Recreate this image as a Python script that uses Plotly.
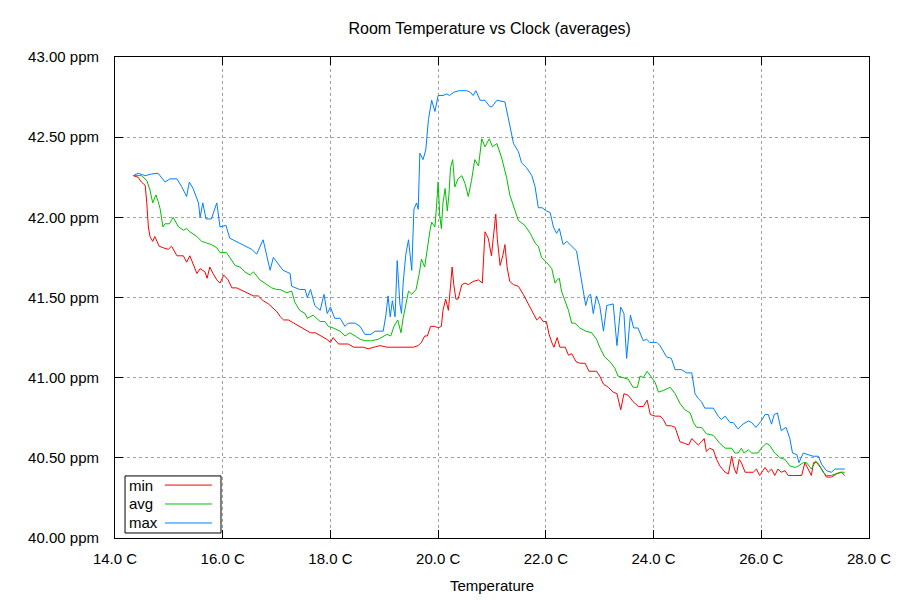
import plotly.graph_objects as go

# --- data ---
max_temp = [14.34, 14.43, 14.56, 14.68, 14.80, 14.93, 15.02, 15.15, 15.24, 15.33, 15.38, 15.45,
            15.55, 15.58, 15.63, 15.69, 15.79, 15.89, 15.95, 16.06, 16.13, 16.35, 16.54, 16.63,
            16.75, 16.88, 16.94, 17.12, 17.25, 17.28, 17.37, 17.43, 17.53, 17.57, 17.63, 17.71,
            17.81, 17.88, 17.94, 18.00, 18.08, 18.18, 18.27, 18.33, 18.46, 18.55, 18.64, 18.75,
            18.83, 18.98, 19.03, 19.07, 19.11, 19.15, 19.20, 19.24, 19.29, 19.32, 19.35, 19.40,
            19.45, 19.48, 19.51, 19.55, 19.60, 19.63, 19.66, 19.72, 19.77, 19.82, 19.88, 19.94,
            20.00, 20.09, 20.16, 20.21, 20.29, 20.39, 20.47, 20.53, 20.60, 20.65, 20.70, 20.78,
            20.87, 20.96, 21.00, 21.09, 21.24, 21.30, 21.40, 21.49, 21.55, 21.64, 21.74, 21.80,
            21.86, 21.93, 22.01, 22.08, 22.14, 22.20, 22.25, 22.32, 22.39, 22.48, 22.57, 22.63,
            22.70, 22.74, 22.79, 22.83, 22.88, 22.94, 23.00, 23.07, 23.13, 23.25, 23.28, 23.32,
            23.39, 23.45, 23.50, 23.57, 23.63, 23.71, 23.81, 23.87, 23.93, 24.06, 24.12, 24.24,
            24.33, 24.40, 24.52, 24.61, 24.71, 24.77, 24.83, 24.89, 24.95, 25.11, 25.20, 25.26,
            25.33, 25.42, 25.48, 25.57, 25.66, 25.76, 25.82, 25.90, 26.00, 26.07, 26.13, 26.19,
            26.24, 26.30, 26.37, 26.46, 26.53, 26.58, 26.66, 26.70, 26.78, 26.87, 26.96, 27.06,
            27.12, 27.21, 27.30, 27.37, 27.55]
max_ppm = [42.26, 42.275, 42.26, 42.27, 42.275, 42.22, 42.24, 42.24, 42.19, 42.13, 42.22, 42.18,
           42.09, 42.00, 42.09, 41.99, 41.99, 42.09, 41.94, 41.95, 41.87, 41.83, 41.80, 41.77,
           41.86, 41.67, 41.75, 41.67, 41.65, 41.57, 41.56, 41.55, 41.55, 41.50, 41.55, 41.45,
           41.42, 41.52, 41.40, 41.44, 41.37, 41.37, 41.32, 41.34, 41.34, 41.32, 41.27, 41.27,
           41.29, 41.29, 41.39, 41.51, 41.38, 41.48, 41.38, 41.73, 41.46, 41.40, 41.59, 41.77,
           41.86, 41.76, 41.67, 42.05, 42.09, 42.05, 42.40, 42.36, 42.42, 42.61, 42.73, 42.66,
           42.76, 42.76, 42.77, 42.76, 42.78, 42.79, 42.79, 42.79, 42.78, 42.76, 42.79, 42.73,
           42.73, 42.69, 42.69, 42.73, 42.72, 42.63, 42.46, 42.41, 42.34, 42.31, 42.26, 42.19,
           42.06, 42.06, 42.04, 42.03, 41.94, 41.90, 41.93, 41.83, 41.85, 41.82, 41.79, 41.67,
           41.53, 41.45, 41.51, 41.52, 41.40, 41.51, 41.45, 41.29, 41.45, 41.46, 41.35, 41.20,
           41.44, 41.40, 41.12, 41.39, 41.31, 41.31, 41.23, 41.24, 41.22, 41.22, 41.20, 41.13,
           41.12, 41.05, 41.05, 41.03, 41.03, 40.90, 40.87, 40.85, 40.81, 40.81, 40.76, 40.74,
           40.76, 40.72, 40.72, 40.68, 40.71, 40.73, 40.72, 40.69, 40.73, 40.77, 40.77, 40.71,
           40.77, 40.78, 40.67, 40.69, 40.62, 40.53, 40.52, 40.47, 40.53, 40.52, 40.51, 40.51,
           40.46, 40.42, 40.41, 40.43, 40.43]

avg_temp = [14.34, 14.49, 14.59, 14.65, 14.70, 14.76, 14.80, 14.84, 14.89, 14.93, 15.01, 15.08,
            15.18, 15.27, 15.33, 15.39, 15.52, 15.61, 15.70, 15.79, 15.89, 15.95, 16.07, 16.23,
            16.32, 16.41, 16.51, 16.57, 16.69, 16.82, 16.91, 17.00, 17.06, 17.19, 17.28, 17.34,
            17.43, 17.53, 17.57, 17.68, 17.81, 17.90, 17.96, 18.05, 18.18, 18.27, 18.36, 18.46,
            18.55, 18.64, 18.76, 18.89, 18.98, 19.05, 19.12, 19.18, 19.25, 19.31, 19.35, 19.40,
            19.45, 19.51, 19.59, 19.65, 19.69, 19.75, 19.80, 19.85, 19.88, 19.94, 19.97, 20.00,
            20.03, 20.06, 20.09, 20.13, 20.17, 20.20, 20.23, 20.27, 20.31, 20.37, 20.44, 20.50,
            20.56, 20.62, 20.68, 20.75, 20.81, 20.87, 20.95, 21.01, 21.09, 21.18, 21.27, 21.33,
            21.43, 21.49, 21.61, 21.71, 21.80, 21.86, 21.92, 22.01, 22.11, 22.17, 22.21, 22.25,
            22.29, 22.36, 22.42, 22.48, 22.54, 22.63, 22.74, 22.85, 22.94, 23.00, 23.09, 23.19,
            23.28, 23.34, 23.43, 23.53, 23.62, 23.70, 23.75, 23.81, 23.88, 23.94, 24.03, 24.09,
            24.18, 24.31, 24.40, 24.49, 24.58, 24.68, 24.74, 24.80, 24.89, 24.98, 25.11, 25.23,
            25.33, 25.45, 25.51, 25.57, 25.63, 25.68, 25.76, 25.82, 25.94, 26.00, 26.09, 26.15,
            26.25, 26.35, 26.44, 26.53, 26.63, 26.69, 26.78, 26.84, 26.93, 27.01, 27.07, 27.15,
            27.21, 27.30, 27.40, 27.46, 27.55]
avg_ppm = [42.26, 42.26, 42.23, 42.17, 42.09, 42.14, 42.10, 42.05, 41.94, 41.96, 41.96, 42.00,
           41.94, 41.92, 41.93, 41.91, 41.88, 41.85, 41.84, 41.83, 41.81, 41.78, 41.78, 41.70,
           41.69, 41.66, 41.64, 41.66, 41.61, 41.58, 41.56, 41.55, 41.55, 41.53, 41.54, 41.47,
           41.42, 41.40, 41.37, 41.39, 41.35, 41.35, 41.32, 41.31, 41.29, 41.26, 41.28, 41.26,
           41.24, 41.23, 41.23, 41.24, 41.26, 41.27, 41.26, 41.32, 41.36, 41.28, 41.37, 41.45,
           41.54, 41.52, 41.55, 41.65, 41.74, 41.69, 41.82, 41.92, 41.97, 41.94, 42.07, 42.22,
           42.01, 41.93, 42.09, 42.18, 42.04, 42.14, 42.31, 42.36, 42.19, 42.24, 42.26, 42.21,
           42.13, 42.23, 42.36, 42.32, 42.49, 42.44, 42.49, 42.44, 42.46, 42.37, 42.25, 42.14,
           42.04, 41.98, 41.95, 41.90, 41.84, 41.82, 41.75, 41.72, 41.68, 41.59, 41.61, 41.62,
           41.54, 41.47, 41.42, 41.34, 41.34, 41.31, 41.29, 41.28, 41.24, 41.19, 41.13, 41.10,
           41.06, 41.01, 41.00, 40.99, 40.94, 40.94, 41.01, 41.00, 41.04, 41.01, 40.97, 40.91,
           40.92, 40.94, 40.90, 40.84, 40.80, 40.78, 40.72, 40.69, 40.69, 40.65, 40.64, 40.59,
           40.56, 40.56, 40.53, 40.53, 40.56, 40.53, 40.55, 40.53, 40.53, 40.56, 40.59, 40.58,
           40.53, 40.50, 40.49, 40.45, 40.44, 40.45, 40.47, 40.47, 40.43, 40.48, 40.46, 40.41,
           40.39, 40.39, 40.40, 40.41, 40.41]

min_temp = [14.34, 14.43, 14.49, 14.56, 14.59, 14.62, 14.65, 14.70, 14.74, 14.82, 14.90, 14.99,
            15.05, 15.15, 15.27, 15.33, 15.39, 15.45, 15.52, 15.58, 15.67, 15.71, 15.76, 15.82,
            15.89, 15.95, 16.02, 16.10, 16.17, 16.26, 16.38, 16.47, 16.57, 16.66, 16.75, 16.85,
            16.95, 17.01, 17.07, 17.13, 17.22, 17.32, 17.44, 17.53, 17.63, 17.72, 17.84, 17.93,
            18.00, 18.05, 18.15, 18.33, 18.43, 18.61, 18.70, 18.80, 18.92, 19.05, 19.23, 19.41,
            19.54, 19.63, 19.69, 19.75, 19.80, 19.86, 19.94, 20.00, 20.06, 20.09, 20.14, 20.19,
            20.22, 20.26, 20.29, 20.33, 20.37, 20.44, 20.50, 20.56, 20.65, 20.75, 20.82, 20.87,
            20.93, 20.99, 21.02, 21.07, 21.10, 21.15, 21.20, 21.24, 21.28, 21.33, 21.40, 21.49,
            21.58, 21.67, 21.77, 21.83, 21.89, 21.95, 22.01, 22.06, 22.11, 22.15, 22.21, 22.26,
            22.36, 22.42, 22.48, 22.56, 22.63, 22.73, 22.80, 22.94, 23.00, 23.07, 23.16, 23.25,
            23.32, 23.39, 23.45, 23.53, 23.62, 23.72, 23.81, 23.88, 23.94, 24.03, 24.12, 24.18,
            24.24, 24.33, 24.40, 24.49, 24.58, 24.65, 24.71, 24.77, 24.83, 24.89, 24.94, 24.98,
            25.04, 25.11, 25.17, 25.23, 25.33, 25.39, 25.42, 25.45, 25.50, 25.54, 25.59, 25.63,
            25.70, 25.79, 25.85, 25.91, 25.97, 26.07, 26.13, 26.19, 26.25, 26.31, 26.37, 26.44,
            26.50, 26.60, 26.69, 26.75, 26.81, 26.87, 26.93, 26.97, 27.03, 27.12, 27.21, 27.30,
            27.40, 27.49, 27.55]
min_ppm = [42.26, 42.25, 42.22, 42.20, 42.09, 41.94, 41.88, 41.85, 41.88, 41.82, 41.81, 41.80,
           41.82, 41.76, 41.76, 41.72, 41.76, 41.71, 41.65, 41.68, 41.66, 41.62, 41.69, 41.65,
           41.61, 41.59, 41.64, 41.61, 41.56, 41.56, 41.54, 41.53, 41.51, 41.51, 41.48, 41.46,
           41.43, 41.41, 41.38, 41.36, 41.36, 41.34, 41.32, 41.30, 41.28, 41.28, 41.26, 41.24,
           41.22, 41.25, 41.21, 41.21, 41.19, 41.19, 41.18, 41.19, 41.20, 41.19, 41.19, 41.19,
           41.19, 41.20, 41.22, 41.26, 41.26, 41.32, 41.32, 41.31, 41.32, 41.42, 41.49, 41.42,
           41.55, 41.69, 41.58, 41.49, 41.49, 41.58, 41.59, 41.58, 41.60, 41.61, 41.59, 41.91,
           41.87, 41.76, 41.86, 42.02, 41.86, 41.70, 41.76, 41.83, 41.69, 41.60, 41.58, 41.57,
           41.52, 41.46, 41.40, 41.36, 41.38, 41.35, 41.35, 41.27, 41.22, 41.19, 41.25, 41.19,
           41.19, 41.14, 41.15, 41.10, 41.09, 41.09, 41.04, 41.04, 41.01, 40.96, 40.94, 40.91,
           40.90, 40.80, 40.90, 40.89, 40.85, 40.82, 40.82, 40.86, 40.77, 40.76, 40.76, 40.74,
           40.70, 40.70, 40.69, 40.60, 40.59, 40.58, 40.62, 40.60, 40.58, 40.60, 40.62, 40.54,
           40.56, 40.55, 40.49, 40.45, 40.41, 40.40, 40.47, 40.51, 40.43, 40.40, 40.49, 40.47,
           40.41, 40.41, 40.41, 40.43, 40.39, 40.44, 40.41, 40.43, 40.39, 40.43, 40.41, 40.42,
           40.39, 40.39, 40.39, 40.39, 40.47, 40.43, 40.39, 40.47, 40.47, 40.43, 40.38, 40.38,
           40.40, 40.41, 40.39]

series_names = ["min", "avg", "max"]
series_colors = ["#ff0000", "#00c000", "#0080ff"]

FONT = "Liberation Sans, Arial, sans-serif"

fig = go.Figure()
for name, color, xs, ys in zip(series_names, series_colors,
                               [min_temp, avg_temp, max_temp],
                               [min_ppm, avg_ppm, max_ppm]):
    fig.add_trace(go.Scatter(x=xs, y=ys, mode="lines", name=name,
                             line=dict(color=color, width=1), showlegend=False))

# gnuplot style key: label on the left, line sample on the right, boxed
fig.add_shape(type="rect", xref="paper", yref="paper",
              x0=0.0133, x1=0.1406, y0=0.0104, y1=0.129,
              line=dict(color="black", width=1), fillcolor="white", layer="above")
row_y = [0.110, 0.0707, 0.0312]
for name, color, ry in zip(series_names, series_colors, row_y):
    fig.add_annotation(x=0.016, y=ry, xref="paper", yref="paper", text=name,
                       showarrow=False, xanchor="left", yanchor="middle",
                       font=dict(family=FONT, size=15, color="black"))
    fig.add_shape(type="line", xref="paper", yref="paper",
                  x0=0.0663, x1=0.1286, y0=ry, y1=ry,
                  line=dict(color=color, width=1), layer="above")

axis_common = dict(
    showline=True, linecolor="black", linewidth=1, mirror="ticks",
    ticks="inside", ticklen=8, tickcolor="black",
    showgrid=True, gridcolor="#a0a0a0", griddash="dot", gridwidth=1,
    zeroline=False, automargin=False,
    tickfont=dict(family=FONT, size=15, color="black"),
)

# the page body adds an 8px offset, so the figure is 892x592 here
fig.update_layout(
    width=892, height=592,
    plot_bgcolor="white", paper_bgcolor="white",
    margin=dict(l=107, r=31, t=49, b=62),
    title=dict(text="Room Temperature vs Clock (averages)", x=0.54, xanchor="center",
               y=1 - 20 / 592, yanchor="middle",
               font=dict(family=FONT, size=16, color="black")),
    xaxis=dict(range=[14, 28], dtick=2, tick0=14, tickformat=".1f", ticksuffix=" C",
               ticklabelstandoff=7,
               title=dict(text="Temperature", standoff=14,
                          font=dict(family=FONT, size=15, color="black")),
               **axis_common),
    yaxis=dict(range=[40, 43], dtick=0.5, tick0=40, tickformat=".2f", ticksuffix=" ppm",
               ticklabelstandoff=12, **axis_common),
)

fig.write_html("out.html")
